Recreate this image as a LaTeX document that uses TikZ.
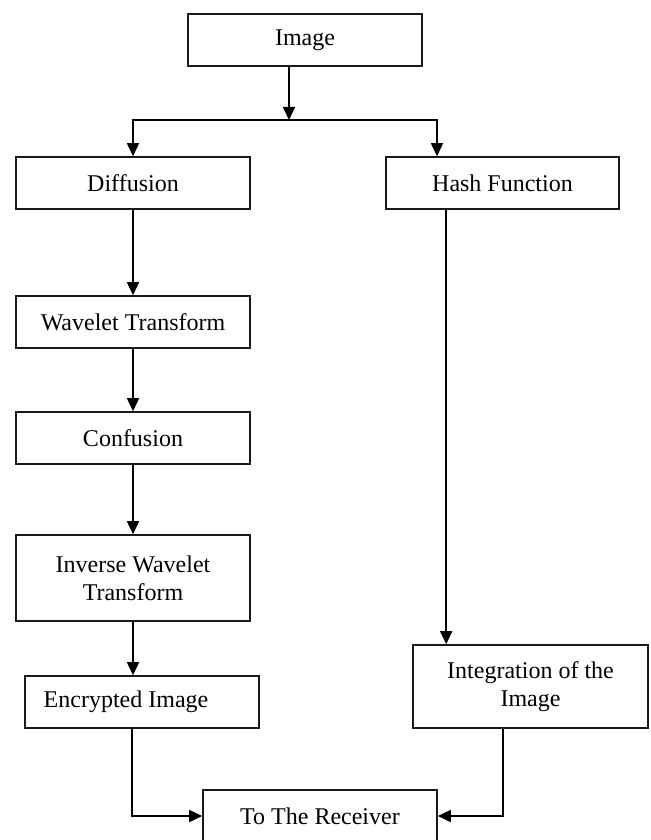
\documentclass[tikz,border=0pt]{standalone}
\usepackage{fontspec}
\setmainfont{Liberation Serif}
\usepackage{tikz}
\usetikzlibrary{arrows.meta}
\definecolor{box-line}{HTML}{1A1A1A}

\begin{document}
\begin{tikzpicture}[x=0.5pt, y=-0.5pt,
    box/.style={draw=box-line, line width=0.8pt, inner sep=0pt, align=center,
      minimum width=117pt, minimum height=26pt, font=\fontsize{12}{14}\selectfont},
    flow/.style={line width=0.8pt, -{Triangle[length=6.5pt, width=6pt]}}]
    \useasboundingbox (0, 0) rectangle (650, 840);
    \node[box] (img) at (305, 40) {Image};
    \node[box] (diff) at (133, 183) {Diffusion};
    \node[box, minimum width=116.5pt] (hash) at (502.5, 183) {Hash Function};
    \node[box] (wav) at (133, 322) {Wavelet Transform};
    \node[box] (conf) at (133, 438) {Confusion};
    \node[box, minimum height=43pt] (iwt) at (133, 578) {Inverse Wavelet\\Transform};
    \node[box] (enc) at (142, 702) {Encrypted Image\hspace{16pt}};
    \node[box, minimum width=117.5pt, minimum height=41.5pt] (integ) at (530.5, 686.5) {Integration of the\\Image};
    \node[box] (recv) at (320, 816) {To The Receiver};
    \coordinate (split) at (289, 120);
    \coordinate (hashin) at (437, 120);
    \draw[flow] (img.south -| split) -- (split);
    \draw[flow] (split) -| (diff.north);
    \draw[flow] (split) -- (hashin) -- (hashin |- hash.north);
    \draw[flow] (diff) -- (wav);
    \draw[flow] (wav) -- (conf);
    \draw[flow] (conf) -- (iwt);
    \draw[flow] (iwt.south) -- (iwt.south |- enc.north);
    \draw[flow] ([xshift=54pt]enc.south west) |- (recv.west);
    \draw[flow] ([xshift=30.5pt]hash.south west) -- ([xshift=30.5pt]hash.south west |- integ.north);
    \draw[flow] ([xshift=45.5pt]integ.south west) |- (recv.east);
  \end{tikzpicture}
\end{document}
